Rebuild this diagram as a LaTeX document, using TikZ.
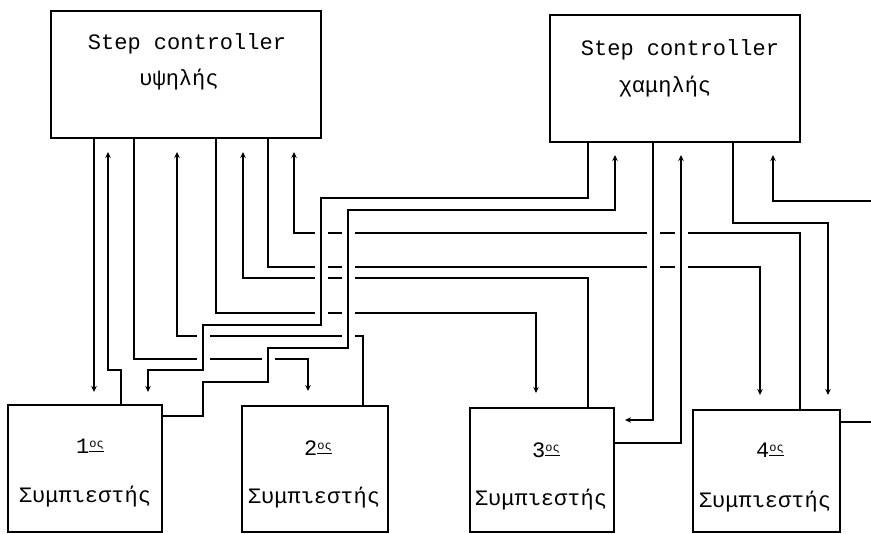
\documentclass[tikz,border=0pt]{standalone}
\usepackage{fontspec}
\newfontfamily\tw{Liberation Mono}
\usetikzlibrary{arrows.meta,calc,backgrounds}
\begin{document}
\begin{tikzpicture}[x=1pt,y=-1pt,
  box/.style={draw,line width=1.3pt,inner sep=0pt,outer sep=0pt,rectangle},
  lbl/.style={font=\tw\fontsize{22}{26}\selectfont,inner sep=0pt},
  wire/.style={line width=1.2pt},
  halo/.style={preaction={draw=white,line width=13pt,arrows=-}},
  >={Stealth[length=6pt,width=5.5pt]}]
\useasboundingbox (0,0) rectangle (871,534);

% boxes
\node[box,minimum width=270pt,minimum height=127pt] (A) at (186,74.5) {};
\node[box,minimum width=250pt,minimum height=127pt] (B) at (675,78.5) {};
\node[box,minimum width=154pt,minimum height=127pt] (C1) at (85,468.5) {};
\node[box,minimum width=146pt,minimum height=126pt] (C2) at (315,469) {};
\node[box,minimum width=144pt,minimum height=124pt] (C3) at (542,470) {};
\node[box,minimum width=147pt,minimum height=122pt] (C4) at (766.5,471) {};

% labels
\node[lbl] (tA1) at (187,44) {Step controller};
\node[lbl] (tA2) at (179,80) {υψηλής};
\node[lbl] (tB1) at (680,50) {Step controller};
\node[lbl] (tB2) at (665,87) {χαμηλής};
\node[lbl] (n1) at (90,446) {1\raisebox{6pt}{\fontsize{12}{12}\selectfont\underline{ος}}};
\node[lbl] (n2) at (318,448) {2\raisebox{6pt}{\fontsize{12}{12}\selectfont\underline{ος}}};
\node[lbl] (n3) at (546,450) {3\raisebox{6pt}{\fontsize{12}{12}\selectfont\underline{ος}}};
\node[lbl] (n4) at (770,450) {4\raisebox{6pt}{\fontsize{12}{12}\selectfont\underline{ος}}};
\node[lbl] (s1) at (85,497) {Συμπιεστής};
\node[lbl] (s2) at (314,498) {Συμπιεστής};
\node[lbl] (s3) at (541,500) {Συμπιεστής};
\node[lbl] (s4) at (765,502) {Συμπιεστής};

\coordinate (e1) at (871,422);
\coordinate (e2) at (871,201);

\begin{pgfonlayer}{background}
% wires of the upper controller
\draw[wire,->] (94,0 |- A.south) -- ($(94,0 |- C1.north)+(0,-13)$);
\draw[wire,->] (121,0 |- C1.north) |- (108,370) -- ($(108,0 |- A.south)+(0,14)$);
\draw[wire,->] (134,0 |- A.south) |- (308,359) -- ($(308,0 |- C2.north)+(0,-15)$);
\draw[wire,->] (363,0 |- C2.north) |- (177,336) -- ($(177,0 |- A.south)+(0,14)$);
\draw[wire,->] (216,0 |- A.south) |- (536,313) -- ($(536,0 |- C3.north)+(0,-15)$);
\draw[wire,->] (588,0 |- C3.north) |- (243,278) -- ($(243,0 |- A.south)+(0,14)$);
\draw[wire,->] (268,0 |- A.south) |- (760,267) -- ($(760,0 |- C4.north)+(0,-15)$);
\draw[wire,->] (800,0 |- C4.north) |- (294,233) -- ($(294,0 |- A.south)+(0,14)$);
% wires of the lower controller
\draw[wire,halo,->] (588,0 |- B.south) |- (321,198) |- (203,325) |- (148,370) -- ($(148,0 |- C1.north)+(0,-13)$);
\draw[wire,halo,->] (C1.east |- 0,416) -| (203,382) -| (268,348) -| (348,210) -| ($(615,0 |- B.south)+(0,13)$);
\draw[wire,halo,->] (653,0 |- B.south) |- ($(C3.east |- 0,420)+(11,0)$);
\draw[wire,halo,->] (C3.east |- 0,443) -| ($(681,0 |- B.south)+(0,13)$);
\draw[wire,->] (733,0 |- B.south) |- (828,223) -- ($(828,0 |- C4.north)+(0,-15)$);
\draw[wire] (C4.east |- e1) -- (e1);
\draw[wire,->] (e2) -| ($(773,0 |- B.south)+(0,13)$);
\end{pgfonlayer}
\end{tikzpicture}
\end{document}
